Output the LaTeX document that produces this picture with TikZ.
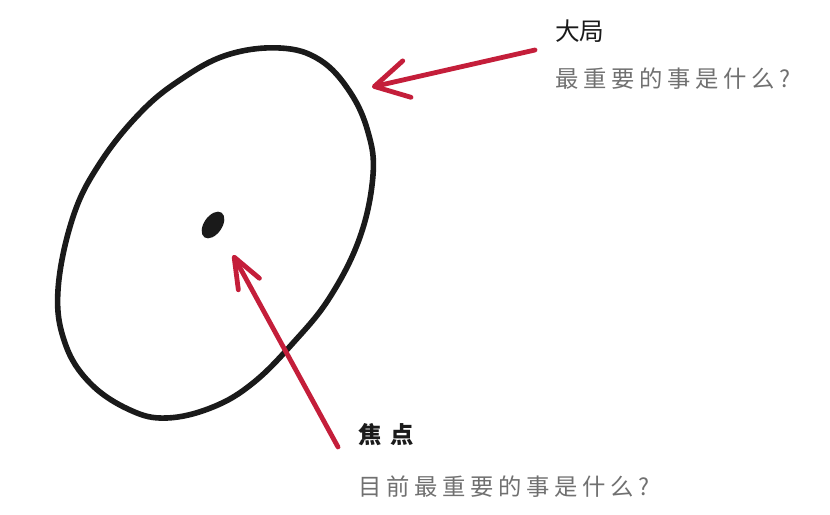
\documentclass[tikz,border=0pt]{standalone}
\usepackage{fontspec}
\newfontfamily\cjk{Noto Sans CJK SC}
\newfontfamily\cjkwide{Noto Sans CJK SC}[LetterSpace=20]
\newfontfamily\cjkfocus{Noto Sans CJK SC}[LetterSpace=40]
\usetikzlibrary{arrows.meta}

\definecolor{handred}{RGB}{196,30,58}
\definecolor{inkblack}{RGB}{26,26,26}
\definecolor{softgray}{RGB}{112,112,112}

\tikzset{
  hand/.style={line width=3.6pt, line cap=round, line join=round},
  title/.style={anchor=west, inner sep=0pt, text=inkblack, font=\fontsize{18.5pt}{20pt}\cjk},
  question/.style={anchor=west, inner sep=0pt, text=softgray, font=\fontsize{17.5pt}{19pt}\cjkwide},
}

\begin{document}
\begin{tikzpicture}[x=0.75pt, y=-0.75pt]
  \useasboundingbox (0,0) rectangle (830,514);
  \draw[hand, draw=inkblack, line width=4.2pt] plot[smooth cycle, tension=0.65] coordinates {
    (280,48) (227,55) (180,80) (140,113) (100,163) (73,217) (58,290)
    (65,343) (90,383) (130,410) (167,418) (213,407) (253,383) (293,343)
    (330,297) (360,237) (373,175) (368,132) (350,92) (320,60)};
  \fill[inkblack, rotate around={55:(213,225)}] (213,225) ellipse [x radius=15, y radius=9];
  \coordinate (bigtail) at (535,50);
  \coordinate (bigtip) at (372,87);
  \coordinate (focustail) at (338,447);
  \coordinate (focustip) at (233,255);
  \node[title] (bigtitle) at (555,31) {大局};
  \node[question] (bigq) at (555,79) {最重要的事是什么?};
  \node[title, font=\fontsize{17.5pt}{20pt}\cjkfocus\bfseries] (focustitle) at (358,435) {焦点};
  \node[question] (focusq) at (358,487) {目前最重要的事是什么?};
  \draw[hand, draw=handred, -{Straight Barb[length=25pt, width=28pt, round]}] (bigtail) -- (bigtip);
  \draw[hand, draw=handred, -{Straight Barb[length=23pt, width=18pt, round]}] (focustail) -- (focustip);
\end{tikzpicture}
\end{document}
